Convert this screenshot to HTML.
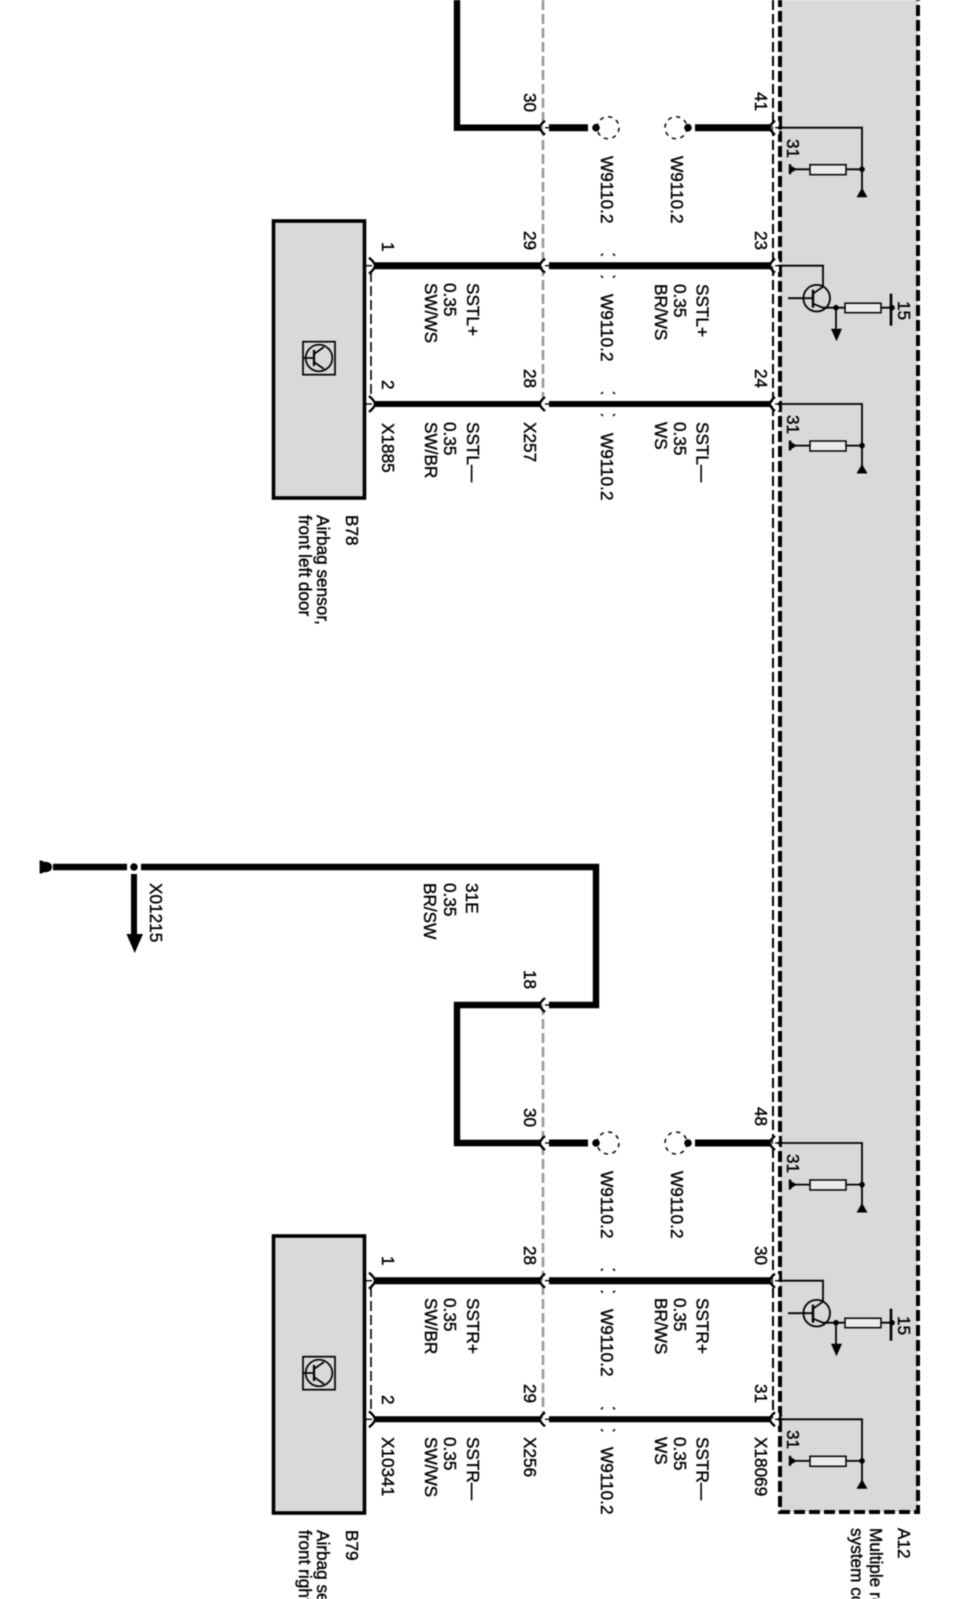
<!DOCTYPE html>
<html><head><meta charset="utf-8"><style>
html,body{margin:0;padding:0;background:#fff;width:965px;height:1599px;overflow:hidden}
svg{display:block;filter:blur(.55px)}
text{font-family:"Liberation Sans",sans-serif;font-size:17.2px;fill:#000;stroke:#000;stroke-width:.4px}
</style></head><body>
<svg xmlns="http://www.w3.org/2000/svg" width="965" height="1599" viewBox="0 0 965 1599">
<defs>
<g id="sock"><path d="M0,-6.5 H6 V6.5 H0Z" fill="#fff"/><path d="M2,-7 Q-3,-3 -3,0 Q-3,3 2,7" fill="none" stroke="#000" stroke-width="2.4"/><path d="M2,0 H6" stroke="#000" stroke-width="1.4"/></g>
<g id="bsock"><path d="M-3,-8 Q3,-3 3,0 Q3,3 -3,8" fill="none" stroke="#000" stroke-width="2.4"/><path d="M-6,0 H0" stroke="#000" stroke-width="1.4"/></g>
<g id="gnd" fill="none" stroke="#000" stroke-width="1.8">
<path d="M778,0 H862 V62"/>
<circle cx="780" cy="0" r="2.2" fill="#000" stroke="none"/>
<path d="M793,41.6 H810 M846,41.6 H862"/>
<rect x="810" y="37" width="36" height="10" fill="#ececec" stroke-width="1.5"/>
<circle cx="862" cy="41.6" r="2.8" fill="#000" stroke="none"/>
<path d="M862,60 L856.5,69.5 H867.5Z" fill="#000" stroke="none"/>
<path d="M790,36.5 V46.5" stroke-width="2.4"/><path d="M790,37.5 L797,41.6 L790,45.7Z" fill="#000" stroke="none"/>
</g>
<g id="trans" fill="none" stroke="#000" stroke-width="1.8">
<path d="M778,0 H823 V21"/>
<circle cx="816.7" cy="32.5" r="13.3"/>
<path d="M788,32.5 H813"/>
<path d="M813,24 V42" stroke-width="2.4"/>
<path d="M813,28 L823,21 M813,38 L823,42 H836" />
<circle cx="836" cy="42" r="2.8" fill="#000" stroke="none"/>
<path d="M836,42 V66"/>
<path d="M831,63 H842 L836.5,75.5Z" fill="#000" stroke="none"/>
<rect x="845" y="37.5" width="36" height="9.5" fill="#ececec" stroke-width="1.5"/>
<path d="M836,42 H845 M881,42 H891"/>
<path d="M891,28 V60" stroke-width="2.6"/>
<circle cx="892" cy="42" r="2.8" fill="#000" stroke="none"/>
</g>
<g id="tick" fill="none" stroke="#000" stroke-width="1.5">
<path d="M601,-10 L603,-12 M613,-12 L615,-10 M601,10 L603,12 M613,12 L615,10"/>
</g>
<g id="sens">
<rect x="273.5" y="-45" width="91" height="277" fill="#d9d9d9" stroke="#000" stroke-width="3.6"/>
<g fill="none" stroke="#000" stroke-width="1.7">
<rect x="303" y="75.7" width="32" height="33"/>
<circle cx="319" cy="92" r="13.3"/>
<path d="M303,92 H314"/><path d="M314,84 V100" stroke-width="2.2"/>
<path d="M314,88 L324,81 M314,96 L324,103"/>
</g>
</g>
</defs>

<!-- A12 box -->
<rect x="780" y="-10" width="138" height="1522" fill="#d9d9d9"/>
<path d="M780,-4 V1512 H918 V-4" fill="none" stroke="#000" stroke-width="4" stroke-dasharray="11 4"/>
<path d="M773,0 V1419" fill="none" stroke="#000" stroke-width="2" stroke-dasharray="10 4"/>
<path d="M543,0 V404 M543,1005 V1419" fill="none" stroke="#999" stroke-width="2.6" stroke-dasharray="10 4"/>

<!-- sensors -->
<use href="#sens" transform="translate(0,266)"/>
<use href="#sens" transform="translate(0,1281)"/>
<path d="M371,272 V398 M371,1287 V1413" fill="none" stroke="#000" stroke-width="1.6" stroke-dasharray="10 4"/>

<!-- thick wires -->
<g fill="none" stroke="#000" stroke-linejoin="miter">
<path d="M457,0 V127.7 H540" stroke-width="6.4"/>
<path d="M548,127.7 H588 M695,127.7 H770" stroke-width="7"/>
<path d="M375,265.7 H540 M546,265.7 H770" stroke-width="7"/>
<path d="M375,404 H540 M546,404 H770" stroke-width="6"/>
<path d="M53,867 H127 M141,867 H596 V1005 H549" stroke-width="6.4"/>
<path d="M540,1005 H457 V1143 H540" stroke-width="6.4"/>
<path d="M546,1143 H588 M695,1143 H770" stroke-width="7"/>
<path d="M375,1280.7 H540 M546,1280.7 H770" stroke-width="7"/>
<path d="M375,1419.3 H540 M546,1419.3 H770" stroke-width="6"/>
<path d="M134,874 V936" stroke-width="6"/>
</g>
<circle cx="134" cy="867" r="3.8" fill="#000"/>
<path d="M126.5,934 H143 L134.7,953Z" fill="#000"/>
<path d="M41,860.5 V873.5" stroke="#000" stroke-width="2.8"/><path d="M42,861.5 Q52,861.5 52,867 Q52,872.5 42,872.5Z" fill="#000"/>

<!-- sockets -->
<use href="#sock" x="543" y="127.7"/><use href="#sock" x="773" y="127.7"/>
<use href="#sock" x="543" y="265.7"/><use href="#sock" x="773" y="265.7"/>
<use href="#sock" x="543" y="404"/><use href="#sock" x="773" y="404"/>
<use href="#sock" x="543" y="1005"/>
<use href="#sock" x="543" y="1143"/><use href="#sock" x="773" y="1143"/>
<use href="#sock" x="543" y="1280.7"/><use href="#sock" x="773" y="1280.7"/>
<use href="#sock" x="543" y="1419.3"/><use href="#sock" x="773" y="1419.3"/>
<use href="#bsock" x="372" y="265.7"/><use href="#bsock" x="372" y="404"/>
<use href="#bsock" x="372" y="1280.7"/><use href="#bsock" x="372" y="1419.3"/>

<!-- splice circles -->
<g fill="none" stroke="#000" stroke-width="1.5" stroke-dasharray="4.2 4.4">
<circle cx="608" cy="127.7" r="11"/><circle cx="676" cy="127.7" r="11"/>
<circle cx="608" cy="1143" r="11"/><circle cx="676" cy="1143" r="11"/>
</g>
<g fill="#000">
<circle cx="596" cy="127.7" r="3.8"/><circle cx="688" cy="127.7" r="3.8"/>
<circle cx="596" cy="1143" r="3.8"/><circle cx="688" cy="1143" r="3.8"/>
</g>
<use href="#tick" y="265.7"/><use href="#tick" y="404"/>
<use href="#tick" y="1280.7"/><use href="#tick" y="1419.3"/>

<!-- internal -->
<use href="#gnd" y="127.7"/><use href="#trans" y="265.7"/><use href="#gnd" y="404"/>
<use href="#gnd" y="1143"/><use href="#trans" y="1280.7"/><use href="#gnd" y="1419.3"/>

<!-- labels group 1 -->
<text transform="translate(524,93) rotate(90)">30</text>
<text transform="translate(755,92) rotate(90)">41</text>
<text transform="translate(524,231) rotate(90)">29</text>
<text transform="translate(755,231) rotate(90)">23</text>
<text transform="translate(524,369) rotate(90)">28</text>
<text transform="translate(755,369) rotate(90)">24</text>
<text transform="translate(787,139) rotate(90)">31</text>
<text transform="translate(787,415) rotate(90)">31</text>
<text transform="translate(898,301) rotate(90)">15</text>
<text transform="translate(601,156) rotate(90)">W9110.2</text>
<text transform="translate(671,156) rotate(90)">W9110.2</text>
<text transform="translate(601,294) rotate(90)">W9110.2</text>
<text transform="translate(601,433) rotate(90)">W9110.2</text>
<text transform="translate(696.5,284) rotate(90)">SSTL+</text>
<text transform="translate(674,284) rotate(90)">0.35</text>
<text transform="translate(655,284) rotate(90)">BR/WS</text>
<text transform="translate(696.5,422) rotate(90)">SSTL—</text>
<text transform="translate(674,422) rotate(90)">0.35</text>
<text transform="translate(655,422) rotate(90)">WS</text>
<text transform="translate(524,422) rotate(90)">X257</text>
<text transform="translate(467,283) rotate(90)">SSTL+</text>
<text transform="translate(444,283) rotate(90)">0.35</text>
<text transform="translate(425,283) rotate(90)">SW/WS</text>
<text transform="translate(467,422) rotate(90)">SSTL—</text>
<text transform="translate(444,422) rotate(90)">0.35</text>
<text transform="translate(425,422) rotate(90)">SW/BR</text>
<text transform="translate(382,242) rotate(90)">1</text>
<text transform="translate(382,380) rotate(90)">2</text>
<text transform="translate(382,423) rotate(90)">X1885</text>
<text transform="translate(346,515) rotate(90)">B78</text>
<text transform="translate(317,515) rotate(90)">Airbag sensor,</text>
<text transform="translate(299,515) rotate(90)">front left door</text>

<!-- middle -->
<text transform="translate(150,883) rotate(90)">X01215</text>
<text transform="translate(466,883) rotate(90)">31E</text>
<text transform="translate(444,883) rotate(90)">0.35</text>
<text transform="translate(424,883) rotate(90)">BR/SW</text>
<text transform="translate(524,970) rotate(90)">18</text>

<!-- labels group 2 -->
<text transform="translate(524,1108) rotate(90)">30</text>
<text transform="translate(755,1107) rotate(90)">48</text>
<text transform="translate(524,1246) rotate(90)">28</text>
<text transform="translate(755,1246) rotate(90)">30</text>
<text transform="translate(524,1384) rotate(90)">29</text>
<text transform="translate(755,1384) rotate(90)">31</text>
<text transform="translate(787,1154) rotate(90)">31</text>
<text transform="translate(787,1430) rotate(90)">31</text>
<text transform="translate(898,1316) rotate(90)">15</text>
<text transform="translate(601,1171) rotate(90)">W9110.2</text>
<text transform="translate(671,1171) rotate(90)">W9110.2</text>
<text transform="translate(601,1309) rotate(90)">W9110.2</text>
<text transform="translate(601,1447) rotate(90)">W9110.2</text>
<text transform="translate(696.5,1298) rotate(90)">SSTR+</text>
<text transform="translate(674,1298) rotate(90)">0.35</text>
<text transform="translate(655,1298) rotate(90)">BR/WS</text>
<text transform="translate(696.5,1437) rotate(90)">SSTR—</text>
<text transform="translate(674,1437) rotate(90)">0.35</text>
<text transform="translate(655,1437) rotate(90)">WS</text>
<text transform="translate(524,1437) rotate(90)">X256</text>
<text transform="translate(755,1437) rotate(90)">X18069</text>
<text transform="translate(467,1298) rotate(90)">SSTR+</text>
<text transform="translate(444,1298) rotate(90)">0.35</text>
<text transform="translate(425,1298) rotate(90)">SW/BR</text>
<text transform="translate(467,1437) rotate(90)">SSTR—</text>
<text transform="translate(444,1437) rotate(90)">0.35</text>
<text transform="translate(425,1437) rotate(90)">SW/WS</text>
<text transform="translate(382,1256) rotate(90)">1</text>
<text transform="translate(382,1395) rotate(90)">2</text>
<text transform="translate(382,1437) rotate(90)">X10341</text>
<text transform="translate(346,1530) rotate(90)">B79</text>
<text transform="translate(317,1530) rotate(90)">Airbag sensor,</text>
<text transform="translate(299,1530) rotate(90)">front right door</text>
<text transform="translate(898,1528) rotate(90)">A12</text>
<text transform="translate(870,1528) rotate(90)">Multiple restraint</text>
<text transform="translate(851,1528) rotate(90)">system control unit</text>
</svg>
</body></html>
